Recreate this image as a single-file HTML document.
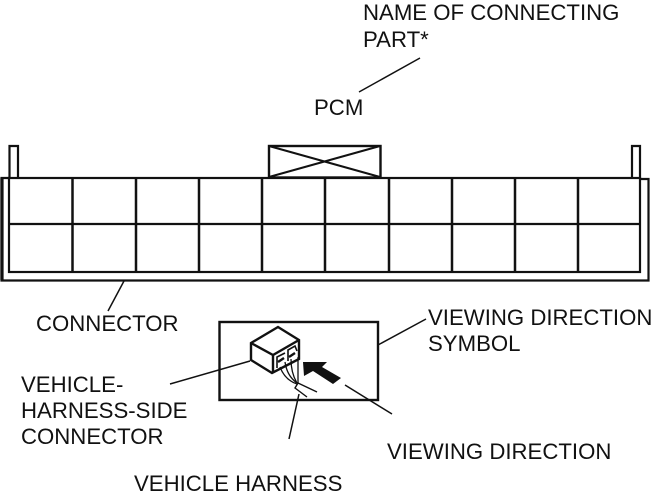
<!DOCTYPE html>
<html><head><meta charset="utf-8"><style>
html,body{margin:0;padding:0;background:#fff}
svg{display:block}
text{font-family:"Liberation Sans",sans-serif;font-size:22.2px;fill:#111}
</style></head><body>
<svg width="652" height="496" viewBox="0 0 652 496" xmlns="http://www.w3.org/2000/svg">
<g fill="none" stroke="#111" stroke-width="2.200">
<path d="M9.500 178V146H18V178M632 178V146H640V178"/>
<path d="M9 178H1.500V280.500H648.500V179H640"/>
<path d="M2 178V280" stroke-width="3.200"/>
<rect x="9" y="178" width="631" height="94"/>
<path d="M9 224H640"/>
<path d="M72.500 178V272M136 178V272M199 178V272M262 178V272M325 178V272M389 178V272M452 178V272M515 178V272M578 178V272" stroke-width="2.500"/>
<rect x="269" y="146" width="111.500" height="31.500" stroke-width="2.400"/>
<path d="M269 146L380 177M380 146L269 177" stroke-width="2"/>
<path d="M359 92L420 58" stroke-width="1.500"/>
<path d="M124 281L108 311" stroke-width="1.500"/>
<rect x="219.500" y="322" width="158.500" height="78" stroke-width="2.400"/>
<path d="M378 345L426 319" stroke-width="1.500"/>
<path d="M250 361L170 384" stroke-width="1.500"/>
<path d="M345 385L392 414" stroke-width="1.500"/>
<path d="M299 394L289 439" stroke-width="1.500"/>
<path d="M251 343L278 327L299 340V359L272 373L251 360Z" stroke-width="2.400"/>
<path d="M251 343L273 355L299 340M273 355V373" stroke-width="2.400"/>
<path d="M277 368V357L285 353M288 361V350L295 346L297 351" stroke-width="1.600"/>
<path d="M278 362L284 358M289 357L295 353" stroke-width="2.400"/>
<path d="M280 367Q285 380 297 384M285 362Q287 376 297 383M291 359Q291 373 297 383M298 357L298 383" stroke-width="1.300"/>
<path d="M298 383L295 388L307 397M298 383L317 392" stroke-width="1.400"/>
</g>
<path d="M303 362H327L322 367L341 378L333 384L313 371L304 376Z" fill="#111"/>
<text x="363" y="20">NAME OF CONNECTING</text>
<text x="363" y="47">PART*</text>
<text x="314" y="115">PCM</text>
<text x="36" y="331">CONNECTOR</text>
<text x="428" y="325">VIEWING DIRECTION</text>
<text x="428" y="351">SYMBOL</text>
<text x="21" y="392">VEHICLE-</text>
<text x="21" y="418">HARNESS-SIDE</text>
<text x="21" y="444">CONNECTOR</text>
<text x="387" y="459">VIEWING DIRECTION</text>
<text x="134" y="491">VEHICLE HARNESS</text>
</svg>
</body></html>
